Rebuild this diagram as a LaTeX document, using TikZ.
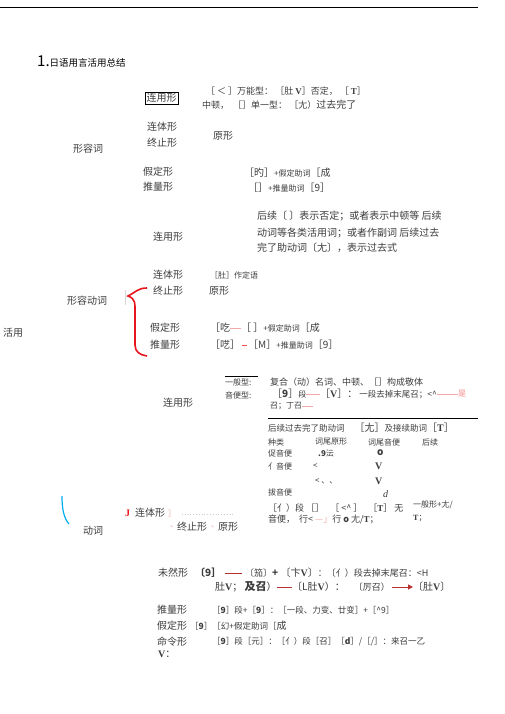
\documentclass[tikz,border=0pt]{standalone}
\usepackage{fontspec}
\setmainfont{Noto Sans CJK SC}
\newfontfamily\serifV{Liberation Serif}
\usepackage{tikz}
\usetikzlibrary{arrows.meta}
\definecolor{ink}{HTML}{3C3C3C}
\definecolor{pinkish}{HTML}{F2A8A8}
\definecolor{braceRed}{HTML}{E8141E}
\definecolor{darkred}{HTML}{B83030}
\newcommand\fs[1]{\fontsize{#1}{#1}\selectfont}
\newcommand\bv[1]{{\serifV\bfseries #1}}

\begin{document}
\begin{tikzpicture}[x=1pt,y=-1pt,
	txt/.style={anchor=west,inner sep=0pt,text=ink,font=\fs{10}},
	sm/.style={txt,font=\fs{8}},
	pinkln/.style={draw=pinkish,line width=0.8pt},
	redln/.style={draw=darkred,line width=1pt}]
	\useasboundingbox (0,0) rectangle (505,714);
	\draw[line width=0.7pt] (0,7) -- (478,7);
	\node[txt,text=black,font=\fs{9.5}] (ttl) at (37,62) {{\fs{15}1.}日语用言活用总结};
	% adjectives
	\node[txt,draw,inner sep=1.5pt] (aRen) at (145,98) {连用形};
	\node[sm,font=\fs{9}] (aRen1) at (206,91) {［ ＜ ］万能型：\ ［肚 \bv{V}］否定，\ ［ \bv{T}］};
	\node[sm,font=\fs{9}] (aRen2) at (202,105) {中顿，\ \ ［］单一型：\ ［尢）{\fs{10}过去完了}};
	\node[txt] (aTai) at (147,127) {连体形};
	\node[txt] (aShu) at (147,143) {终止形};
	\node[txt] (aGen) at (213,136) {原形};
	\node[txt] (adj) at (73,149) {形容词};
	\node[txt] (aKa) at (143,172) {假定形};
	\node[txt] (aSui) at (143,187) {推量形};
	\node[txt] (aKa1) at (244,173) {［旳］{\fs{8}+假定助词}［成};
	\node[txt] (aSui1) at (248,188) {［］{\fs{8}+推量助词}［9］};
	% adjective verbs
	\foreach \y/\t [count=\k] in {216/{后续〔 〕表示否定；或者表示中顿等 后续},233/{动词等各类活用词；或者作副词 后续过去},248/{完了助动词〔尢〕，表示过去式}}{
		\node[txt] (naExp\k) at (257,\y) {\t};
	}
	\node[txt] (naRen) at (153,237) {连用形};
	\node[txt] (naTai) at (153,275) {连体形};
	\node[sm] (naTai1) at (210,275) {［肚］作定语};
	\node[txt] (naShu) at (153,291) {终止形};
	\node[txt] (naGen) at (209,291) {原形};
	\node[txt] (adjv) at (67,301) {形容动词};
	\node[txt] (katsuyo) at (3,333) {活用};
	\node[txt] (naKa) at (150,328) {假定形};
	\node[txt] (naKa1) at (210,328) {［吃};
	\node[txt] (naKa2) at (241,328) {［ ］{\fs{8}+假定助词}［成};
	\draw[pinkln] (naKa1.east) -- (naKa2.west);
	\node[txt] (naSui) at (150,345) {推量形};
	\node[txt] (naSui1) at (210,345) {［呓］};
	\node[txt] (naSui2) at (248,345) {［M］{\fs{8}+推量助词}［9］};
	\draw[redln,draw=red!70] ([xshift=2pt]naSui1.east) -- ([xshift=-1pt]naSui2.west);
	\draw[gray!30] (125,290) -- (125,305);
	\draw[braceRed,line width=1.6pt] (147,288) .. controls (138,288) and (136,292) .. (128,296)
		.. controls (136,299) and (135,304) .. (135,312) -- (135,345)
		.. controls (135,352) and (140,355) .. (147,356);
	% verbs
	\draw[line width=0.6pt] (225,376) -- (258,376);
	\node[sm] (ipan) at (225,382) {一般型:};
	\node[sm,font=\fs{9}] (ipan1) at (270,382) {复合（动）名词、中顿、［］构成敬体};
	\node[sm] (onbin) at (225,395) {音便型:};
	\node[txt] (onbin1) at (272,394) {［\textbf{9}］{\fs{8}段}};
	\node[txt] (onbin2) at (320,394) {［\bv{V}］：{\fs{8.5} 一段去掉末尾召；<\string^}};
	\node[sm,text=pinkish!80!red] (onbin3) at (458,394) {是};
	\draw[pinkln] (onbin1.east) -- (onbin2.west);
	\draw[pinkln] (onbin2.east) -- (onbin3.west);
	\node[sm] (onbin4) at (270,406) {召；丁召};
	\coordinate (onbinEnd) at (313,406);
	\draw[pinkln] (onbin4.east) -- (onbinEnd);
	\node[txt] (vRen) at (163,403) {连用形};
	\draw[line width=0.7pt] (268,418) -- (478,418);
	\node[sm] (te) at (268,428) {{\fs{8.5}后续过去完了助动词}\hspace{10pt}{\fs{10}［尢］}{\fs{8.5}及接续助词}{\fs{10}［\bv{T}］}};
	\foreach \x/\t [count=\k] in {268/种类,315/词尾原形,368/词尾音便,422/后续}{
		\node[sm] (hd\k) at (\x,442) {\t};
	}
	\foreach \y/\t [count=\k] in {453/促音便,466/亻音便,492/拔音便}{
		\node[sm] (kind\k) at (268,\y) {\t};
	}
	\node[sm] (c1) at (318,453) {\textbf{.9}沄};
	\node[txt] (c2) at (377,453) {\textbf{o}};
	\node[sm] (c3) at (313,466) {<};
	\node[txt] (c4) at (375,466) {\bv{V}};
	\node[sm] (c5) at (315,481) {< 、、};
	\node[txt] (c6) at (375,481) {\bv{V}};
	\node[txt] (c7) at (383,494) {{\serifV\itshape d}};
	\node[sm,font=\fs{9}] (nRow1) at (268,508) {［亻）段 ［］\ \ \ ［ <\string^ ］\ \ \ ［\bv{T}］\ 无};
	\node[sm] (nRow1b) at (413,505) {一般形+尢/};
	\node[sm,font=\fs{9}] (nRow2) at (268,519) {音便，\ \ 行< \textcolor{pinkish}{—」}行 \textbf{o} 尢/\bv{T}；};
	\node[sm] (nRow2b) at (413,519) {\bv{T}；};
	\draw[cyan,line width=1.2pt] (62,496) .. controls (62,510) and (64,518) .. (69,524);
	\node[txt] (verb) at (83,531) {动词};
	\node[txt,text=braceRed] (jmark) at (125,513) {\bv{J}};
	\node[txt] (vTai) at (135,513) {连体形};
	\node[sm,text=pinkish] (vTaiB) at (168,513) {］};
	\coordinate (dotA) at (182,514);
	\coordinate (dotB) at (233,514);
	\draw[gray!40,dotted,line width=0.8pt] (dotA) -- (dotB);
	\node[sm,text=pinkish] (vDot1) at (170,527) {、};
	\node[txt] (vShu) at (177,527) {终止形};
	\node[sm,text=pinkish] (vDot2) at (211,527) {、};
	\node[txt] (vGen) at (218,527) {原形};
	% bottom rows
	\node[txt] (vMi) at (158,573) {未然形};
	\node[txt] (vMi1) at (195,573) {\textbf{〔9］}};
	\node[txt] (vMi2) at (245,573) {{\fs{9}〔笳〕}\textbf{+}\ 〔卞\bv{V}〕{\fs{9}：〔亻）段去掉末尾召：<H}};
	\draw[redln] ([xshift=4pt]vMi1.east) -- ([xshift=-3pt]vMi2.west);
	\node[txt] (vMi3) at (215,587) {肚\bv{V}；\ {\fs{11}\textbf{及召}}）};
	\node[txt] (vMi4) at (292,587) {〔L肚\bv{V}）：\ \ \ \ {\fs{9}〔厉召）}};
	\node[txt] (vMi5) at (413,587) {〔肚\bv{V}〕};
	\draw[redln] (vMi3.east) -- (vMi4.west);
	\draw[redln,-{Triangle[length=5pt,width=5pt]}] ([xshift=2pt]vMi4.east) -- (vMi5.west);
	\node[txt] (vSui) at (157,610) {推量形};
	\node[sm,font=\fs{8.5}] (vSui1) at (212,610) {［\textbf{9}］段+［\textbf{9}］：［一段、力变、廿变］+［\string^9］};
	\node[txt] (vKa) at (157,626) {假定形};
	\node[sm,font=\fs{8.5}] (vKa1) at (190,626) {［\textbf{9}］［幻+假定助词［{\fs{10}成}};
	\node[txt] (vMei) at (157,642) {命令形};
	\node[sm,font=\fs{8.5}] (vMei1) at (212,642) {［\textbf{9}］段［元］：［亻）段［召］［\textbf{d}］/［/］：来召一乙};
	\node[txt] (vV) at (158,654) {\bv{V}：};
\end{tikzpicture}
\end{document}
